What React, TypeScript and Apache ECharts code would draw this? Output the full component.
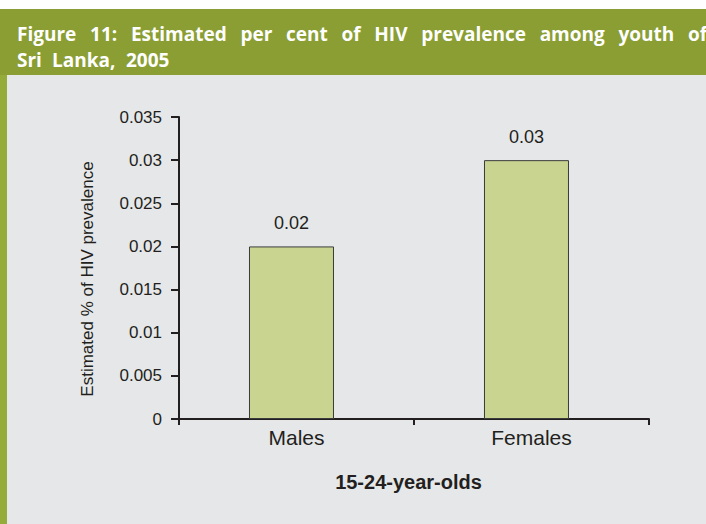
import React, { useEffect, useRef } from "react";
import * as echarts from "echarts";

// Chart content
const categories = ["Males", "Females"];
const prevalence = [0.02, 0.03];
const yTicks = [0, 0.005, 0.01, 0.015, 0.02, 0.025, 0.03, 0.035];
const titleLine1 = ["Figure", "11:", "Estimated", "per", "cent", "of", "HIV", "prevalence", "among", "youth", "of"];
const titleLine2 = ["Sri", "Lanka,", "2005"];
const yAxisTitle = "Estimated % of HIV prevalence";
const xAxisTitle = "15-24-year-olds";

const AXIS_COLOR = "#231f20";
const FONT = "'Liberation Sans', Arial, sans-serif";
const TITLE_FONT = "'Open Sans', 'Noto Sans', sans-serif";
const TITLE_CSS_FONT = `bold 19px ${TITLE_FONT}`;

// Title block: first line is justified between these two word starts
const TITLE_LEFT = 17;
const TITLE_LAST_WORD_X = 688;
const LINE2_X = [17, 52, 126];

function justifiedStarts(words: string[]): number[] {
  const ctx = document.createElement("canvas").getContext("2d");
  if (!ctx) return words.map((_, i) => TITLE_LEFT + (i * (TITLE_LAST_WORD_X - TITLE_LEFT)) / (words.length - 1));
  ctx.font = TITLE_CSS_FONT;
  const widths = words.map((w) => ctx.measureText(w).width);
  const used = widths.slice(0, -1).reduce((a, b) => a + b, 0);
  const gap = (TITLE_LAST_WORD_X - TITLE_LEFT - used) / (words.length - 1);
  const xs: number[] = [];
  let x = TITLE_LEFT;
  words.forEach((_, i) => {
    xs.push(x);
    x += widths[i] + gap;
  });
  return xs;
}

function titleWords(words: string[], xs: number[], y: number) {
  return words.map((w, i) => ({
    type: "text",
    x: xs[i],
    y,
    style: {
      text: w,
      fill: "#ffffff",
      font: TITLE_CSS_FONT,
      verticalAlign: "middle",
      align: "left",
    },
  }));
}

export default function App() {
  const ref = useRef<HTMLDivElement>(null);

  useEffect(() => {
    if (!ref.current) return;
    const chart = echarts.init(ref.current, null, { renderer: "svg" });

    chart.setOption({
      animation: false,
      backgroundColor: "#e6e7e9",
      textStyle: { fontFamily: FONT },
      graphic: [
        { type: "rect", shape: { x: 0, y: 0, width: 706, height: 9 }, style: { fill: "#ffffff" }, z: -1 },
        { type: "rect", shape: { x: 0, y: 9, width: 706, height: 66 }, style: { fill: "#8a9e33" }, z: -1 },
        { type: "rect", shape: { x: 0, y: 75, width: 7, height: 449 }, style: { fill: "#95ac3b" }, z: -1 },
        ...titleWords(titleLine1, justifiedStarts(titleLine1), 34),
        ...titleWords(titleLine2, LINE2_X, 60),
        {
          type: "text",
          x: 87,
          y: 279,
          rotation: Math.PI / 2,
          style: {
            text: yAxisTitle,
            fill: AXIS_COLOR,
            font: `17px ${FONT}`,
            align: "center",
            verticalAlign: "middle",
          },
        },
      ],
      grid: { left: 179, right: 57, top: 117, bottom: 105, containLabel: false },
      xAxis: {
        type: "category",
        data: categories,
        name: xAxisTitle,
        nameLocation: "middle",
        nameGap: 53,
        nameTextStyle: {
          fontSize: 20,
          fontWeight: "bold",
          color: AXIS_COLOR,
          fontFamily: FONT,
          padding: [0, 11, 0, 0],
        },
        axisLine: { lineStyle: { color: AXIS_COLOR, width: 2 } },
        axisTick: { show: true, length: 6, lineStyle: { color: AXIS_COLOR, width: 2 } },
        axisLabel: { color: AXIS_COLOR, fontSize: 21, margin: 8, fontFamily: FONT },
      },
      yAxis: {
        type: "value",
        min: yTicks[0],
        max: yTicks[yTicks.length - 1],
        interval: yTicks[1] - yTicks[0],
        splitLine: { show: false },
        axisLine: { show: true, lineStyle: { color: AXIS_COLOR, width: 2 } },
        axisTick: { show: true, length: 8, lineStyle: { color: AXIS_COLOR, width: 2 } },
        axisLabel: {
          color: AXIS_COLOR,
          fontSize: 17,
          margin: 17,
          fontFamily: FONT,
          formatter: (v: number) => String(+v.toFixed(3)),
        },
      },
      series: [
        {
          type: "bar",
          data: prevalence,
          barWidth: 85,
          barGap: "10.6%",
          itemStyle: { color: "#c9d491", borderColor: "#3b3b3b", borderWidth: 1 },
          label: {
            show: true,
            position: "top",
            distance: 14,
            color: AXIS_COLOR,
            fontSize: 18,
            fontFamily: FONT,
            formatter: (p: any) => String(p.value),
          },
        },
        {
          type: "bar",
          data: categories.map(() => null),
          barWidth: 1,
          itemStyle: { color: "transparent" },
          silent: true,
        },
      ],
    });

    return () => chart.dispose();
  }, []);

  return (
    <div
      ref={ref}
      style={{ position: "absolute", left: 0, top: 0, width: 706, height: 524 }}
    />
  );
}
